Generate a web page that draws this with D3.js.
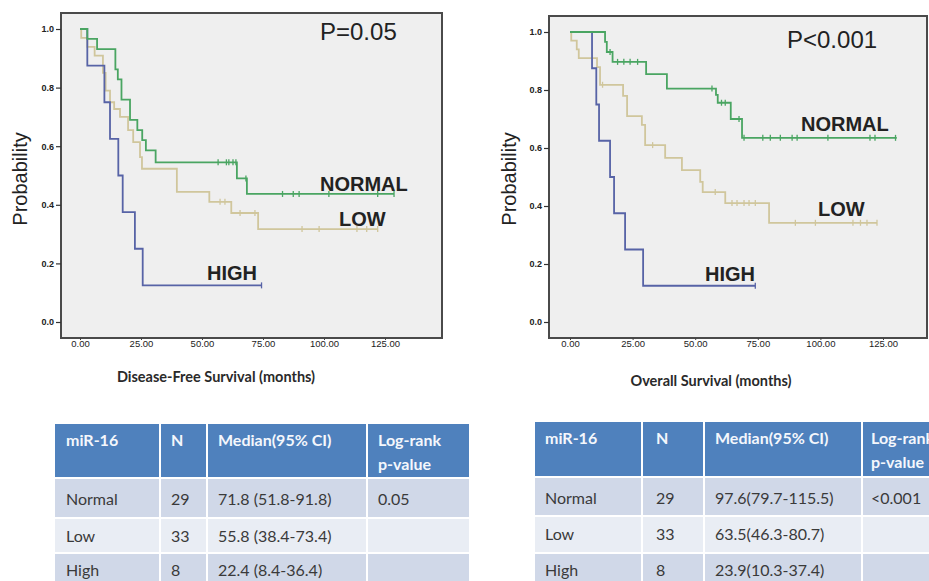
<!DOCTYPE html>
<html>
<head>
<meta charset="utf-8">
<script src="https://d3js.org/d3.v7.min.js"></script>
<style>
  body { margin: 0; background: #fff; }
  svg { display: block; }
</style>
</head>
<body>
<svg id="fig" width="929" height="581"></svg>
<script>
// ---- data ----
var groups = ["NORMAL", "LOW", "HIGH"];
var xTicks = [0, 25, 50, 75, 100, 125];
var yTicks = [0, 0.2, 0.4, 0.6, 0.8, 1.0];

// disease-free survival (months), step times / survival after step
var dfsNormalT = [0, 3, 7, 14.5, 15.5, 17, 20.5, 23.5, 25.5, 27, 31, 64.3, 68.4];
var dfsNormalS = [1, .966, .931, .862, .828, .759, .69, .655, .621, .586, .545, .49, .437];
var dfsNormalCens = [56.6, 60, 61, 62.7, 63.9, 68, 83, 87.4, 89.8, 102, 122, 128.7];
var dfsNormalEnd = 128.7;

var dfsLowT = [0, 0.5, 3, 6, 9.4, 10.5, 12.3, 14, 16.4, 19.7, 21.8, 24.6, 25.4, 39.7, 53, 62, 73];
var dfsLowS = [1, .97, .939, .909, .85, .79, .75, .727, .70, .655, .614, .563, .523, .444, .41, .372, .317];
var dfsLowCens = [57.4, 59.4, 65.6, 71.7, 91, 98, 113.5, 117.5, 122];
var dfsLowEnd = 122;

var dfsHighT = [0, 3, 10, 12.3, 15.7, 17.5, 22.5, 25.7];
var dfsHighS = [1, .875, .75, .625, .5, .375, .25, .125];
var dfsHighCens = [74.4];
var dfsHighEnd = 74.4;

// overall survival (months)
var osNormalT = [0, 14, 14.7, 17, 30.4, 38.7, 58.3, 59, 64.2, 68.7];
var osNormalS = [1, .966, .931, .897, .855, .805, .783, .756, .70, .635];
var osNormalCens = [16, 19, 21.5, 24, 27, 56.7, 60.5, 62, 67.5, 69.5, 77, 80, 84, 88.7, 90.7, 103, 119.8, 121.8, 130];
var osNormalEnd = 130.5;

var osLowT = [0, 0.5, 2.7, 3.5, 10.8, 12, 21.2, 22.8, 28.7, 30, 38, 44.7, 52, 53, 62, 79.5];
var osLowS = [1, .97, .94, .91, .879, .818, .78, .71, .68, .61, .566, .524, .483, .448, .41, .342];
var osLowCens = [13, 33, 58, 64.7, 66.7, 69.5, 71.5, 74, 90, 98, 113, 116, 118.6, 122.6];
var osLowEnd = 122.6;

var osHighT = [0, 8.8, 10.5, 11.6, 16, 17.6, 22, 29.2];
var osHighS = [1, .875, .75, .625, .5, .375, .25, .125];
var osHighCens = [74];
var osHighEnd = 74;

// tables
var tableHead = ["miR-16", "N", "Median(95% CI)", "Log-rank|p-value"];
var rowNames = ["Normal", "Low", "High"];
var rowN = [29, 33, 8];
var dfsMedian = ["71.8 (51.8-91.8)", "55.8 (38.4-73.4)", "22.4 (8.4-36.4)"];
var dfsP = ["0.05", "", ""];
var osMedian = ["97.6(79.7-115.5)", "63.5(46.3-80.7)", "23.9(10.3-37.4)"];
var osP = ["<0.001", "", ""];

var colors = { NORMAL: "#4aa562", LOW: "#d0c69c", HIGH: "#5763a6" };

var svg = d3.select("#fig");

function panel(opt) {
  var g = svg.append("g");
  var x = d3.scaleLinear().domain([0, 125]).range(opt.xr);
  var y = d3.scaleLinear().domain([0, 1]).range(opt.yr);

  g.append("rect")
    .attr("x", opt.box[0]).attr("y", opt.box[1])
    .attr("width", opt.box[2] - opt.box[0]).attr("height", opt.box[3] - opt.box[1])
    .attr("fill", "#efefef").attr("stroke", "#4a4a4a").attr("stroke-width", 2);

  // y axis ticks
  var ya = g.append("g")
    .attr("transform", "translate(" + opt.box[0] + ",0)")
    .call(d3.axisLeft(y).tickValues(yTicks).tickSize(5).tickPadding(2).tickFormat(d3.format(".1f")));
  ya.select(".domain").remove();
  ya.selectAll("text").attr("font-size", 9).attr("font-weight", "bold")
    .attr("font-family", "Liberation Sans").attr("fill", "#222");
  ya.selectAll("line").attr("stroke", "#333").attr("stroke-width", 1.2);

  var xa = g.append("g")
    .attr("transform", "translate(0," + opt.box[3] + ")")
    .call(d3.axisBottom(x).tickValues(xTicks).tickSize(2).tickFormat(d3.format(".2f")));
  xa.select(".domain").remove();
  xa.selectAll("text").attr("font-size", 9.5).attr("font-family", "Liberation Sans")
    .attr("fill", "#222").attr("dy", "0.45em");
  xa.selectAll("line").attr("stroke", "#444");

  g.append("text")
    .attr("transform", "translate(" + opt.ylabX + ",179) rotate(-90)")
    .attr("text-anchor", "middle")
    .attr("font-family", "Liberation Sans").attr("font-size", 20).attr("fill", "#222")
    .text("Probability");

  g.append("text")
    .attr("x", opt.xlab[0]).attr("y", opt.xlab[1])
    .attr("text-anchor", "middle")
    .attr("font-family", "Lato").attr("font-weight", "bold").attr("font-size", 14.5).attr("fill", "#2a2a2a")
    .text(opt.xtitle);

  var line = d3.line().curve(d3.curveStepAfter)
    .x(function(d) { return x(d[0]); }).y(function(d) { return y(d[1]); });

  opt.series.forEach(function(s) {
    var pts = s.t.map(function(t, i) { return [t, s.s[i]]; });
    pts.push([s.end, s.s[s.s.length - 1]]);
    g.append("path").datum(pts)
      .attr("d", line).attr("fill", "none")
      .attr("stroke", colors[s.name]).attr("stroke-width", 1.8);

    function at(t) {
      var v = s.s[0];
      s.t.forEach(function(tt, i) { if (tt <= t) v = s.s[i]; });
      return v;
    }
    g.selectAll(null).data(s.cens).enter().append("line")
      .attr("x1", function(d) { return x(d); }).attr("x2", function(d) { return x(d); })
      .attr("y1", function(d) { return y(at(d)) - 3; })
      .attr("y2", function(d) { return y(at(d)) + 3; })
      .attr("stroke", colors[s.name]).attr("stroke-width", 1.3);
  });

  g.selectAll(null).data(opt.labels).enter().append("text")
    .attr("x", function(d) { return d.x; }).attr("y", function(d) { return d.y; })
    .attr("font-family", "Liberation Sans").attr("font-weight", "bold")
    .attr("font-size", 20).attr("fill", "#222")
    .text(function(d) { return d.name; });

  g.append("text")
    .attr("x", opt.p[0]).attr("y", opt.p[1])
    .attr("font-family", "Liberation Sans").attr("font-size", 24).attr("fill", "#222")
    .text(opt.ptext);
}

panel({
  box: [61, 13, 442, 338], xr: [80, 385], yr: [322, 29],
  ylabX: 27, xlab: [216, 382], xtitle: "Disease-Free Survival (months)",
  ptext: "P=0.05", p: [320, 40],
  series: [
    { name: "LOW", t: dfsLowT, s: dfsLowS, cens: dfsLowCens, end: dfsLowEnd },
    { name: "HIGH", t: dfsHighT, s: dfsHighS, cens: dfsHighCens, end: dfsHighEnd },
    { name: "NORMAL", t: dfsNormalT, s: dfsNormalS, cens: dfsNormalCens, end: dfsNormalEnd }
  ],
  labels: [
    { name: groups[0], x: 320, y: 191 },
    { name: groups[1], x: 339, y: 226 },
    { name: groups[2], x: 207, y: 280 }
  ]
});

panel({
  box: [549, 16, 927, 338], xr: [570, 883], yr: [322, 32],
  ylabX: 516, xlab: [711, 386], xtitle: "Overall Survival (months)",
  ptext: "P<0.001", p: [787, 48],
  series: [
    { name: "LOW", t: osLowT, s: osLowS, cens: osLowCens, end: osLowEnd },
    { name: "HIGH", t: osHighT, s: osHighS, cens: osHighCens, end: osHighEnd },
    { name: "NORMAL", t: osNormalT, s: osNormalS, cens: osNormalCens, end: osNormalEnd }
  ],
  labels: [
    { name: groups[0], x: 801, y: 131 },
    { name: groups[1], x: 818, y: 216 },
    { name: groups[2], x: 705, y: 281 }
  ]
});

// ---- tables ----
function table(opt) {
  var g = svg.append("g");
  var cols = opt.cols; // column edges
  var rows = opt.rows; // row edges
  var fills = ["#4f81bd", "#d0d8e8", "#e9edf4", "#d0d8e8"];
  var offs = [23, 27, 24, 23];
  var cells = [tableHead];
  rowNames.forEach(function(r, i) {
    cells.push([r, String(rowN[i]), opt.median[i], opt.p[i]]);
  });
  cells.forEach(function(row, ri) {
    row.forEach(function(txt, ci) {
      g.append("rect")
        .attr("x", cols[ci]).attr("y", rows[ri])
        .attr("width", cols[ci + 1] - cols[ci]).attr("height", rows[ri + 1] - rows[ri])
        .attr("fill", fills[ri]).attr("stroke", "#fff").attr("stroke-width", 2);
      var lines = txt.split("|");
      var t = g.append("text")
        .attr("x", cols[ci] + opt.pad[ci]).attr("y", rows[ri] + offs[ri])
        .attr("font-family", "Lato").attr("font-size", 16)
        .attr("font-weight", ri === 0 ? "bold" : "normal")
        .attr("fill", ri === 0 ? "#f4f7fc" : "#3a3a3a");
      lines.forEach(function(l, li) {
        t.append("tspan").attr("x", cols[ci] + opt.pad[ci]).attr("dy", li === 0 ? 0 : 24).text(l);
      });
    });
  });
}

table({
  cols: [54, 160, 207, 367, 470], rows: [423, 478, 518, 553, 590],
  pad: [12, 11, 11, 11], median: dfsMedian, p: dfsP
});
table({
  cols: [534, 642, 704, 862, 960], rows: [421, 477, 516, 553, 590],
  pad: [11, 14, 11, 9], median: osMedian, p: osP
});
</script>
</body>
</html>
